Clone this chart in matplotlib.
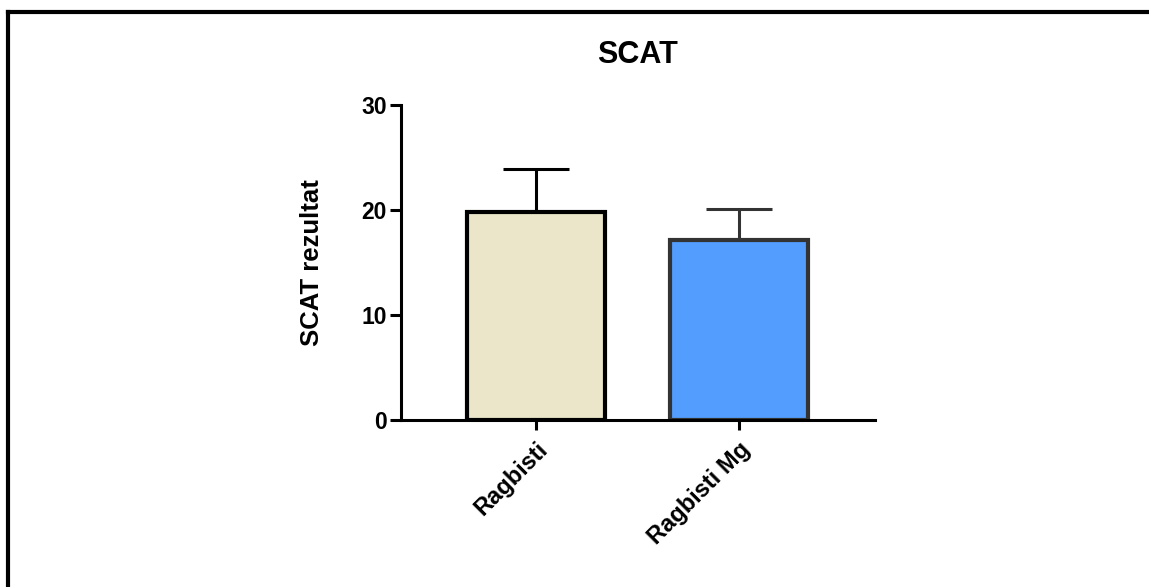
import matplotlib
matplotlib.use('Agg')
import matplotlib.pyplot as plt
from matplotlib.lines import Line2D

groups = ['Ragbisti', 'Ragbisti Mg']
means = [19.8, 17.1]
sd = [4.1, 3.0]
fill_colors = ['#EBE6CA', '#529DFD']
edge_colors = ['#000000', '#333333']

plt.rcParams['font.family'] = ['Liberation Sans', 'DejaVu Sans']
plt.rcParams['font.weight'] = 'bold'

W, H = 1149, 587
fig = plt.figure(figsize=(W / 100, H / 100), dpi=100)

# axes box in pixel units
left, right, bottom, top = 401, 875, 420, 105
ax = fig.add_axes([left / W, 1 - bottom / H, (right - left) / W, (bottom - top) / H])

x = list(range(len(groups)))
for i in x:
    ax.errorbar(i, means[i], yerr=[[0], [sd[i]]], fmt='none', ecolor=edge_colors[i],
                elinewidth=2.2, capsize=24, capthick=2.2, zorder=1)
ax.bar(x, means, width=0.675, color=fill_colors, edgecolor=edge_colors,
       linewidth=3, zorder=2)

ax.set_xlim(-0.665, 1.67)
ax.set_ylim(0, 30)
ax.set_yticks([0, 10, 20, 30])
ax.set_xticks(x)
ax.set_xticklabels(groups, rotation=45, ha='right', rotation_mode='anchor')

for side in ['top', 'right']:
    ax.spines[side].set_visible(False)
for side in ['left', 'bottom']:
    ax.spines[side].set_linewidth(2.2)
ax.tick_params(axis='y', length=8, width=2.2, labelsize=16.5, pad=2)
ax.tick_params(axis='x', length=7, width=2.2, labelsize=17, pad=6)

ax.set_ylabel('SCAT rezultat', fontsize=18.5, fontweight='bold', labelpad=27)
ax.set_title('SCAT', fontsize=22, fontweight='bold', pad=30)

# open frame around the figure (left and top edges)
fig.add_artist(Line2D([8 / W, 8 / W], [0, 1 - 12 / H], color='black', lw=3,
                      transform=fig.transFigure))
fig.add_artist(Line2D([8 / W, 1], [1 - 12 / H, 1 - 12 / H], color='black', lw=3,
                      transform=fig.transFigure))

fig.savefig('out.png', dpi=100)
